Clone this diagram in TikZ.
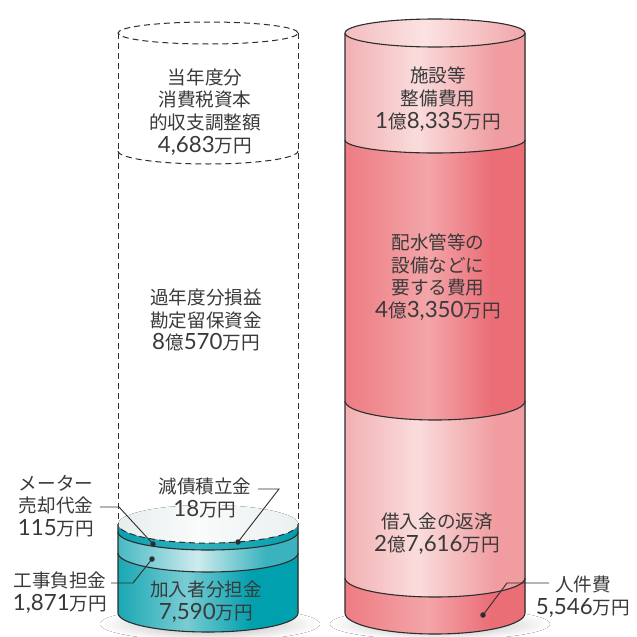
\documentclass[tikz,border=0pt]{standalone}
\usepackage{fontspec}
\setmainfont{Noto Sans CJK JP}
\newfontfamily\digf{Lato}[Scale=1.2]
\newcommand\nm[1]{{\digf #1}}
\definecolor{txtc}{HTML}{3A3A3A}
\definecolor{linec}{HTML}{2E2E2E}
% horizontal shadings: path bbox maps to 25bp..75bp
\pgfdeclarehorizontalshading{pinkL}{100bp}{rgb(0bp)=(0.949,0.690,0.698); rgb(25bp)=(0.949,0.690,0.698); rgb(45bp)=(0.980,0.863,0.863); rgb(67bp)=(0.941,0.612,0.627); rgb(75bp)=(0.941,0.612,0.627); rgb(100bp)=(0.941,0.612,0.627)}
\pgfdeclarehorizontalshading{pinkTop}{100bp}{rgb(0bp)=(0.955,0.740,0.745); rgb(25bp)=(0.955,0.740,0.745); rgb(47bp)=(0.985,0.890,0.890); rgb(75bp)=(0.945,0.650,0.665); rgb(100bp)=(0.945,0.650,0.665)}
\pgfdeclarehorizontalshading{pinkD}{100bp}{rgb(0bp)=(0.933,0.486,0.514); rgb(25bp)=(0.933,0.486,0.514); rgb(48bp)=(0.953,0.647,0.659); rgb(66bp)=(0.922,0.427,0.463); rgb(75bp)=(0.922,0.427,0.463); rgb(100bp)=(0.922,0.427,0.463)}
\pgfdeclarehorizontalshading{tealB}{100bp}{rgb(0bp)=(0.102,0.659,0.706); rgb(25bp)=(0.102,0.659,0.706); rgb(44bp)=(0.478,0.800,0.827); rgb(62bp)=(0,0.627,0.682); rgb(75bp)=(0,0.627,0.682); rgb(100bp)=(0,0.627,0.682)}
\pgfdeclarehorizontalshading{tealL}{100bp}{rgb(0bp)=(0.282,0.725,0.765); rgb(25bp)=(0.282,0.725,0.765); rgb(47bp)=(0.804,0.922,0.933); rgb(66bp)=(0.227,0.702,0.745); rgb(75bp)=(0.227,0.702,0.745); rgb(100bp)=(0.227,0.702,0.745)}
\pgfdeclarehorizontalshading{tealS}{100bp}{rgb(0bp)=(0.03,0.63,0.69); rgb(25bp)=(0.03,0.63,0.69); rgb(47bp)=(0.20,0.70,0.75); rgb(75bp)=(0.0,0.62,0.68); rgb(100bp)=(0.0,0.62,0.68)}
\pgfdeclarehorizontalshading{topF}{100bp}{rgb(0bp)=(0.90,0.93,0.93); rgb(25bp)=(0.90,0.93,0.93); rgb(47bp)=(0.98,0.985,0.985); rgb(75bp)=(0.92,0.94,0.94); rgb(100bp)=(0.92,0.94,0.94)}
\tikzset{
  lbl/.style={align=center, text=txtc, inner sep=0pt, font=\fontsize{18.6}{22.7}\selectfont},
  outl/.style={draw=linec, line width=1.1pt},
  dashl/.style={draw=linec, line width=1pt, dash pattern=on 6pt off 4pt},
  leader/.style={draw=linec, line width=0.9pt},
  dotn/.style={circle, fill=linec, inner sep=0pt, minimum size=5.5pt},
  shadow/.style={shading=radial, inner color=black!32, outer color=white},
}
\begin{document}
\begin{tikzpicture}[x=1pt,y=1pt]
\useasboundingbox (0,0) rectangle (637,-637);
\fill[white] (0,0) rectangle (637,-637);

% ---------- shadows ----------
\fill[shadow] (210,-624) ellipse [x radius=110, y radius=17];
\fill[shadow] (440,-624) ellipse [x radius=110, y radius=16];

% ---------- right (pink) cylinder ----------
\fill[shading=pinkL] (345,-33) -- (525,-33) -- (525,-140) arc[start angle=0,end angle=-180,x radius=90,y radius=13] -- cycle;
\fill[shading=pinkD] (345,-140) arc[start angle=180,end angle=360,x radius=90,y radius=13] -- (525,-401) arc[start angle=0,end angle=-180,x radius=90,y radius=19] -- cycle;
\fill[shading=pinkL] (345,-401) arc[start angle=180,end angle=360,x radius=90,y radius=19] -- (525,-578) arc[start angle=0,end angle=-180,x radius=90,y radius=19] -- cycle;
\fill[shading=pinkD] (345,-578) arc[start angle=180,end angle=360,x radius=90,y radius=19] -- (525,-613) arc[start angle=0,end angle=-180,x radius=90,y radius=21] -- cycle;
\fill[shading=pinkTop] (435,-33) ellipse [x radius=90, y radius=14];
\draw[outl] (435,-33) ellipse [x radius=90, y radius=14];
\draw[outl] (345,-33) -- (345,-613) arc[start angle=180,end angle=360,x radius=90,y radius=21] -- (525,-33);
\draw[outl] (345,-140) arc[start angle=180,end angle=360,x radius=90,y radius=13];
\draw[outl] (345,-401) arc[start angle=180,end angle=360,x radius=90,y radius=19];
\draw[outl] (345,-578) arc[start angle=180,end angle=360,x radius=90,y radius=19];

% ---------- left (teal / dashed) cylinder ----------
\fill[shading=tealB] (118,-553) arc[start angle=180,end angle=360,x radius=90,y radius=19] -- (298,-613) arc[start angle=0,end angle=-180,x radius=90,y radius=19] -- cycle;
\fill[shading=tealL] (118,-532) arc[start angle=180,end angle=360,x radius=90,y radius=18] -- (298,-553) arc[start angle=0,end angle=-180,x radius=90,y radius=19] -- cycle;
\fill[shading=tealS] (118,-524) -- (298,-524) -- (298,-532) arc[start angle=0,end angle=-180,x radius=90,y radius=18] -- cycle;
\fill[shading=topF] (208,-524) ellipse [x radius=90, y radius=19];
\draw[outl] (118,-524) -- (118,-613) arc[start angle=180,end angle=360,x radius=90,y radius=19] -- (298,-524);
\draw[outl] (118,-532) arc[start angle=180,end angle=360,x radius=90,y radius=18];
\draw[outl] (118,-553) arc[start angle=180,end angle=360,x radius=90,y radius=19];
\draw[dashl] (208,-33) ellipse [x radius=90, y radius=11];
\draw[dashl] (118,-33) -- (118,-524);
\draw[dashl] (298,-33) -- (298,-524);
\draw[dashl] (118,-151) arc[start angle=180,end angle=360,x radius=90,y radius=13];
\draw[dashl] (121,-529) arc[start angle=195,end angle=345,x radius=90,y radius=19];

% ---------- labels ----------
\node[lbl] (tL1) at (205,-112) {当年度分\\消費税資本\\的収支調整額\\\nm{4,683}万円};
\node[lbl] (tL2) at (206,-320) {過年度分損益\\勘定留保資金\\\nm{8}億\nm{570}万円};
\node[lbl] (tL3) at (205,-498) {減債積立金\\\nm{18}万円};
\node[lbl] (tL4) at (206,-602) {加入者分担金\\\nm{7,590}万円};
\node[lbl] (tM)  at (56,-506)  {メーター\\売却代金\\\nm{115}万円};
\node[lbl] (tK)  at (60,-593)  {工事負担金\\\nm{1,871}万円};
\node[lbl] (tR1) at (438,-99)  {施設等\\整備費用\\\nm{1}億\nm{8,335}万円};
\node[lbl] (tR2) at (438,-277) {配水管等の\\設備などに\\要する費用\\\nm{4}億\nm{3,350}万円};
\node[lbl] (tR3) at (437,-534) {借入金の返済\\\nm{2}億\nm{7,616}万円};
\node[lbl] (tR4) at (583,-597) {人件費\\\nm{5,546}万円};

% ---------- leaders ----------
\node[dotn] (dG) at (238,-542) {};
\node[dotn] (dM) at (153,-544) {};
\node[dotn] (dK) at (152,-559) {};
\node[dotn] (dP) at (483,-615) {};
\coordinate (gA) at (258,-489); \coordinate (gB) at (279,-489);
\coordinate (mA) at (100,-507); \coordinate (mB) at (119,-507);
\coordinate (kA) at (111,-583); \coordinate (kB) at (133,-583);
\coordinate (pA) at (549,-583); \coordinate (pB) at (507,-583);
\draw[leader] (gA) -- (gB) -- (dG.center);
\draw[leader] (mA) -- (mB) -- (dM.center);
\draw[leader] (kA) -- (kB) -- (dK.center);
\draw[leader] (pA) -- (pB) -- (dP.center);
\end{tikzpicture}
\end{document}
